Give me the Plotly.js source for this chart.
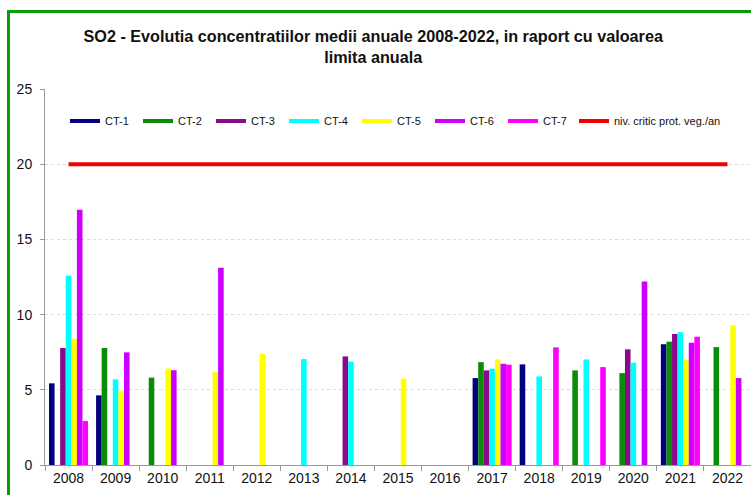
<!DOCTYPE html>
<html>
<head>
<meta charset="utf-8">
<script src="https://cdn.plot.ly/plotly-3.0.1.min.js"></script>
<style>
  html, body { margin: 0; padding: 0; background: #ffffff; }
  #chart { width: 751px; height: 495px; }
</style>
</head>
<body>
<div id="chart"></div>
<script>
// ---- data ----
const years = ["2008","2009","2010","2011","2012","2013","2014","2015","2016","2017","2018","2019","2020","2021","2022"];
const seriesNames = ["CT-1","CT-2","CT-3","CT-4","CT-5","CT-6","CT-7"];
const ct1 = [5.43, 4.63, null, null, null, null, null, null, null, 5.78, 6.69, null, null, 8.03, null];
const ct2 = [null, 7.78, 5.81, null, null, null, null, null, null, 6.84, null, 6.29, 6.11, 8.20, 7.84];
const ct3 = [7.78, null, null, null, null, null, 7.22, null, null, 6.29, null, null, 7.69, 8.71, null];
const ct4 = [12.59, 5.69, null, null, null, 7.04, 6.88, null, null, 6.40, 5.89, 7.02, 6.80, 8.82, null];
const ct5 = [8.40, 4.94, 6.41, 6.19, 7.39, null, null, 5.75, null, 7.02, null, null, null, 7.00, 9.27];
const ct6 = [16.97, 7.49, 6.30, 13.12, null, null, null, null, null, 6.73, null, null, 12.20, 8.13, 5.78];
const ct7 = [2.92, null, null, null, null, null, null, null, null, 6.67, 7.82, 6.51, null, 8.53, null];
const limitName = "niv. critic prot. veg./an";
const limitValues = [20,20,20,20,20,20,20,20,20,20,20,20,20,20,20];
const chartTitle = "SO2 - Evolutia concentratiilor medii anuale 2008-2022, in raport cu valoarea<br>limita anuala";

const seriesValues = [ct1, ct2, ct3, ct4, ct5, ct6, ct7];
const seriesColors = ["#000080", "#0a8c0a", "#8a0a8a", "#00ffff", "#ffff00", "#cc00ff", "#ff00ff"];

const traces = [];
seriesValues.forEach((vals, i) => {
  traces.push({
    type: "bar", x: years, y: vals, name: seriesNames[i],
    marker: { color: seriesColors[i], line: { width: 0 } },
    showlegend: false, legendgroup: seriesNames[i]
  });
});
seriesValues.forEach((vals, i) => {
  traces.push({
    type: "scatter", mode: "lines", x: [years[0]], y: [null], name: seriesNames[i],
    line: { color: seriesColors[i], width: 4 }, legendgroup: seriesNames[i], showlegend: true
  });
});
traces.push({
  type: "scatter", mode: "lines", x: years, y: limitValues, name: limitName,
  line: { color: "#ee0000", width: 4 }, showlegend: true, legend: "legend2"
});

const W = 751, H = 495, ml = 45, mr = 0, mt = 89, mb = 30;
const pw = W - ml - mr, ph = H - mt - mb;
const px = v => (v - ml) / pw;
const py = v => (H - mb - v) / ph;

const layout = {
  width: W, height: H,
  margin: { l: ml, r: mr, t: mt, b: mb, pad: 0 },
  paper_bgcolor: "#ffffff", plot_bgcolor: "#ffffff",
  font: { family: "Liberation Sans, Arial, sans-serif", color: "#111111", size: 14 },
  title: {
    text: chartTitle,
    font: { family: "Liberation Sans, Arial, sans-serif", size: 16.2, weight: "bold", color: "#111111" },
    x: 0.497, xanchor: "center", xref: "container",
    y: 1 - 42 / H, yanchor: "top", yref: "container"
  },
  barmode: "group", bargap: 0.17, bargroupgap: 0,
  xaxis: {
    type: "category", range: [-0.5, 14.5],
    showline: true, linecolor: "#999999", linewidth: 1,
    ticks: "outside", tickson: "boundaries", ticklen: 5, tickcolor: "#999999",
    showgrid: false, zeroline: false,
    tickfont: { size: 14, color: "#111111" }
  },
  yaxis: {
    range: [0, 25], dtick: 5, tick0: 0,
    showline: true, linecolor: "#999999", linewidth: 1,
    ticks: "outside", ticklen: 4, tickcolor: "#999999",
    ticklabelstandoff: 5,
    showgrid: true, gridcolor: "#dcdcdc", griddash: "dot", gridwidth: 1,
    zeroline: false,
    tickfont: { size: 14, color: "#111111" }
  },
  legend: {
    orientation: "h", x: px(65), xanchor: "left", y: py(121), yanchor: "middle",
    bgcolor: "rgba(0,0,0,0)", borderwidth: 0,
    font: { size: 11, color: "#111111" },
    entrywidth: 28, entrywidthmode: "pixels", tracegroupgap: 0, itemwidth: 30
  },
  legend2: {
    orientation: "h", x: px(574), xanchor: "left", y: py(121), yanchor: "middle",
    bgcolor: "rgba(0,0,0,0)", borderwidth: 0,
    font: { size: 11, color: "#111111" }, itemwidth: 30
  },
  shapes: [{
    type: "rect", xref: "paper", yref: "paper",
    x0: px(8.5), x1: px(800), y0: py(600), y1: py(11.5),
    line: { color: "#0a9a0a", width: 3 }, fillcolor: "rgba(0,0,0,0)", layer: "above"
  }],
  showlegend: true
};

Plotly.newPlot("chart", traces, layout, { displayModeBar: false, staticPlot: true });
</script>
</body>
</html>
